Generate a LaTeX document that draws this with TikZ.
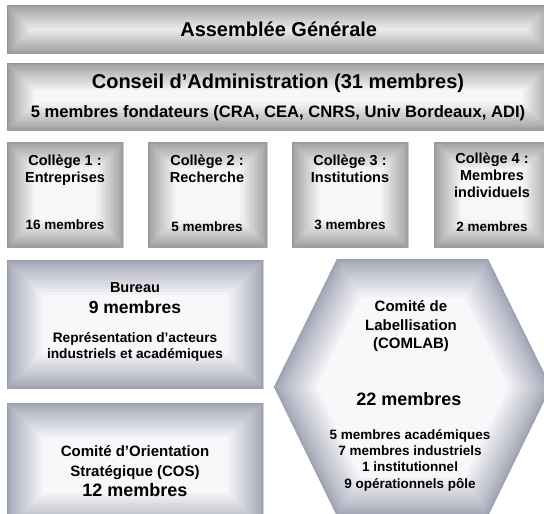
\documentclass[tikz,border=0pt]{standalone}
\usepackage{fontspec}
\setmainfont{Liberation Sans}
\usetikzlibrary{calc}

\definecolor{boxgray}{RGB}{120,120,120}
\definecolor{boxblue}{RGB}{125,130,155}

% soft glow inside a closed path: colour, scale of the glow, path
\newcommand\glowpath[3]{%
        \begin{scope}
                \clip #3;
                \fill[#1!6!white] #3;
                \foreach \gi in {24,23,...,1} {
                        \pgfmathsetmacro\gw{54*#2*(\gi/24)^2}
                        \draw[line width=\gw pt, color=#1, opacity=0.05] #3;
                }
        \end{scope}}

\tikzset{
        box/.style={rectangle, anchor=north west, inner sep=0pt},
        bigtext/.style={font=\bfseries\fontsize{20}{24}\selectfont},
        midtext/.style={font=\bfseries\fontsize{17.5}{21}\selectfont},
        boxtext/.style={font=\bfseries\fontsize{14.5}{17}\selectfont, align=center, inner sep=0pt},
        smalltext/.style={font=\bfseries\fontsize{13.5}{16.3}\selectfont, align=center, inner sep=0pt},
}

\begin{document}
\begin{tikzpicture}[x=1pt, y=-1pt]

        % Frame of the picture, the boxes run over its right edge
        \useasboundingbox (0,0) rectangle (544,514);
        \clip (0,0) rectangle (544,514);

        % Boxes
        \node[box, minimum width=543pt, minimum height=48pt] (ag) at (7,5) {};
        \node[box, minimum width=543pt, minimum height=67pt] (ca) at (7,63) {};
        \node[box, minimum width=116pt, minimum height=105pt] (col1) at (7,142) {};
        \node[box, minimum width=119pt, minimum height=105pt] (col2) at (148,142) {};
        \node[box, minimum width=116pt, minimum height=105pt] (col3) at (292,142) {};
        \node[box, minimum width=116pt, minimum height=105pt] (col4) at (434,142) {};
        \node[box, minimum width=256pt, minimum height=128pt] (bur) at (7,260) {};
        \node[box, minimum width=256pt, minimum height=125pt] (cos) at (7,403) {};

        \glowpath{boxgray}{1}{(ag.south west) rectangle (ag.north east)}
        \glowpath{boxgray}{1}{(ca.south west) rectangle (ca.north east)}
        \glowpath{boxgray}{1}{(col1.south west) rectangle (col1.north east)}
        \glowpath{boxgray}{1}{(col2.south west) rectangle (col2.north east)}
        \glowpath{boxgray}{1}{(col3.south west) rectangle (col3.north east)}
        \glowpath{boxgray}{1}{(col4.south west) rectangle (col4.north east)}
        \glowpath{boxblue}{1.3}{(bur.south west) rectangle (bur.north east)}
        \glowpath{boxblue}{1.3}{(cos.south west) rectangle (cos.north east)}

        % Hexagon of the COMLAB
        \coordinate (h1) at (337,259);
        \coordinate (h2) at (488,259);
        \coordinate (h3) at (551,387);
        \coordinate (h4) at (488,516);
        \coordinate (h5) at (337,516);
        \coordinate (h6) at (274,387);
        \glowpath{boxblue}{1.4}{(h1) -- (h2) -- (h3) -- (h4) -- (h5) -- (h6) -- cycle}

        % Texts
        \node[bigtext] (agt) at (ag.center) {Assemblée Générale};
        \node[bigtext] (catitle) at (278,83) {Conseil d’Administration (31 membres)};
        \node[font=\bfseries\fontsize{16.6}{20}\selectfont] (cafond) at (278,113) {5 membres fondateurs (CRA, CEA, CNRS, Univ Bordeaux, ADI)};

        \node[boxtext, anchor=north] (col1t) at (65,155) {Collège 1 :\\Entreprises};
        \node[boxtext, anchor=north] (col2t) at (207,155) {Collège 2 :\\Recherche};
        \node[boxtext, anchor=north] (col3t) at (350,155) {Collège 3 :\\Institutions};
        \node[boxtext, anchor=north] (col4t) at (492,153) {Collège 4 :\\Membres\\individuels};

        \node[smalltext] (col1m) at (65,225) {16 membres};
        \node[smalltext] (col2m) at (207,227) {5 membres};
        \node[smalltext] (col3m) at (350,225) {3 membres};
        \node[smalltext] (col4m) at (492,227) {2 membres};

        \node[boxtext] (burt) at (135,288) {Bureau};
        \node[midtext] (burm) at (135,307) {9 membres};
        \node[smalltext, font=\bfseries\fontsize{13.7}{16}\selectfont, anchor=north] (burr) at (135,332) {Représentation d’acteurs\\industriels et académiques};

        \node[boxtext, font=\bfseries\fontsize{15}{20}\selectfont, anchor=north] (cost) at (135,445.5) {Comité d’Orientation\\Stratégique (COS)};
        \node[midtext, font=\bfseries\fontsize{18}{21}\selectfont] (cosm) at (135,490) {12 membres};

        \node[boxtext, font=\bfseries\fontsize{15}{18.5}\selectfont, anchor=north] (labt) at (411,300.5) {Comité de\\Labellisation\\(COMLAB)};
        \node[midtext, font=\bfseries\fontsize{18}{21}\selectfont] (labm) at (409,399) {22 membres};
        \node[smalltext, anchor=north] (labl) at (410,429) {5 membres académiques\\7 membres industriels\\1 institutionnel\\9 opérationnels pôle};

\end{tikzpicture}
\end{document}
